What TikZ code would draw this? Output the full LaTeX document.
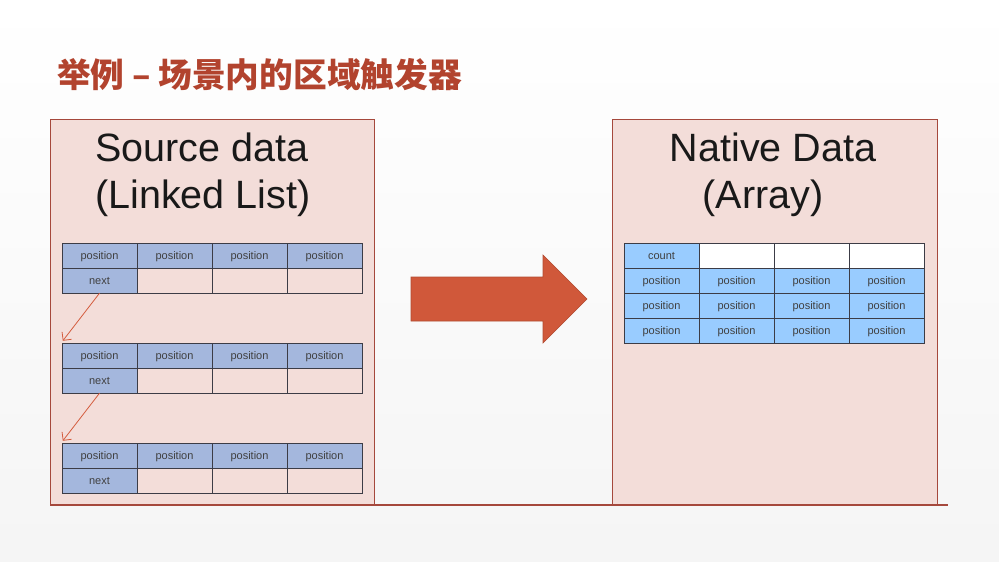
\documentclass[tikz,border=0pt]{standalone}
\usepackage{fontspec}
\setmainfont{Liberation Sans}
\newfontfamily\cjk{Noto Sans CJK SC}
\usetikzlibrary{positioning,arrows.meta}

\definecolor{titlered}{RGB}{178,67,46}
\definecolor{panelfill}{RGB}{243,221,217}
\definecolor{panelline}{RGB}{165,72,60}
\definecolor{linkblue}{RGB}{164,183,221}
\definecolor{arrblue}{RGB}{153,204,255}
\definecolor{cellline}{RGB}{60,60,70}
\definecolor{bigarrow}{RGB}{208,88,58}
\definecolor{nextline}{RGB}{212,92,62}

\begin{document}
\begin{tikzpicture}[x=1pt, y=-1pt]
	\useasboundingbox[top color=white, bottom color=black!4] (0,0) rectangle (999,562);

	% title
	\node[anchor=west, inner sep=0, text=titlered, font=\cjk\bfseries\fontsize{33.7}{36}\selectfont] (title) at (57,75) {举例 – 场景内的区域触发器};

	% panels
	\draw[panelline, fill=panelfill, line width=0.8pt] (50,119) rectangle (374,505);
	\draw[panelline, fill=panelfill, line width=0.8pt] (612,119) rectangle (937,505);
	\draw[panelline, line width=1.2pt] (50,505) -- (948,505);

	\node[anchor=west, align=left, inner sep=0, text=black!90, font=\fontsize{39.5}{47}\selectfont] (srchead) at (95,175) {Source data\\(Linked List)};
	\node[align=center, inner sep=0, text=black!90, font=\fontsize{39.5}{47}\selectfont] (nathead) at (773,175) {Native Data\\(Array)\hspace*{20pt}};

	\begin{scope}
		\tikzstyle{every node}=[draw=cellline, minimum width=75pt, minimum height=25pt, inner sep=0, text height=8.5pt, text depth=0pt, text=black!75, font=\fontsize{11}{13}\selectfont]
		\tikzstyle{lcell}=[fill=linkblue]
		\tikzstyle{acell}=[fill=arrblue]
		\tikzstyle{wcell}=[fill=white]

		% linked list, first node
		\node[lcell] (p1a) at (99.5, 255.5) {position};
		\node[lcell] (p1b) at (174.5, 255.5) {position};
		\node[lcell] (p1c) at (249.5, 255.5) {position};
		\node[lcell] (p1d) at (324.5, 255.5) {position};
		\node[lcell] (n1)  at (99.5, 280.5) {next};
		\node (e1b) at (174.5, 280.5) {};
		\node (e1c) at (249.5, 280.5) {};
		\node (e1d) at (324.5, 280.5) {};

		% second node
		\node[lcell] (p2a) at (99.5, 355.5) {position};
		\node[lcell] (p2b) at (174.5, 355.5) {position};
		\node[lcell] (p2c) at (249.5, 355.5) {position};
		\node[lcell] (p2d) at (324.5, 355.5) {position};
		\node[lcell] (n2)  at (99.5, 380.5) {next};
		\node (e2b) at (174.5, 380.5) {};
		\node (e2c) at (249.5, 380.5) {};
		\node (e2d) at (324.5, 380.5) {};

		% third node
		\node[lcell] (p3a) at (99.5, 455.5) {position};
		\node[lcell] (p3b) at (174.5, 455.5) {position};
		\node[lcell] (p3c) at (249.5, 455.5) {position};
		\node[lcell] (p3d) at (324.5, 455.5) {position};
		\node[lcell] (n3)  at (99.5, 480.5) {next};
		\node (e3b) at (174.5, 480.5) {};
		\node (e3c) at (249.5, 480.5) {};
		\node (e3d) at (324.5, 480.5) {};

		% array
		\node[acell] (cnt) at (661.5, 255.5) {count};
		\node[wcell] (w1)  at (736.5, 255.5) {};
		\node[wcell] (w2)  at (811.5, 255.5) {};
		\node[wcell] (w3)  at (886.5, 255.5) {};
		\node[acell] (a1a) at (661.5, 280.5) {position};
		\node[acell] (a1b) at (736.5, 280.5) {position};
		\node[acell] (a1c) at (811.5, 280.5) {position};
		\node[acell] (a1d) at (886.5, 280.5) {position};
		\node[acell] (a2a) at (661.5, 305.5) {position};
		\node[acell] (a2b) at (736.5, 305.5) {position};
		\node[acell] (a2c) at (811.5, 305.5) {position};
		\node[acell] (a2d) at (886.5, 305.5) {position};
		\node[acell] (a3a) at (661.5, 330.5) {position};
		\node[acell] (a3b) at (736.5, 330.5) {position};
		\node[acell] (a3c) at (811.5, 330.5) {position};
		\node[acell] (a3d) at (886.5, 330.5) {position};

		\draw [nextline, line width=0.8pt, ->, >={Straight Barb[length=6pt, width=12pt]}] (n1.south) to ([shift={(1,-2)}]p2a.north west);
		\draw [nextline, line width=0.8pt, ->, >={Straight Barb[length=6pt, width=12pt]}] (n2.south) to ([shift={(1,-2)}]p3a.north west);
	\end{scope}

	% big arrow
	\draw[bigarrow!85!black, fill=bigarrow, line width=0.6pt] (411,277) -- (543,277) -- (543,255) -- (587,299) -- (543,343) -- (543,321) -- (411,321) -- cycle;
\end{tikzpicture}
\end{document}
